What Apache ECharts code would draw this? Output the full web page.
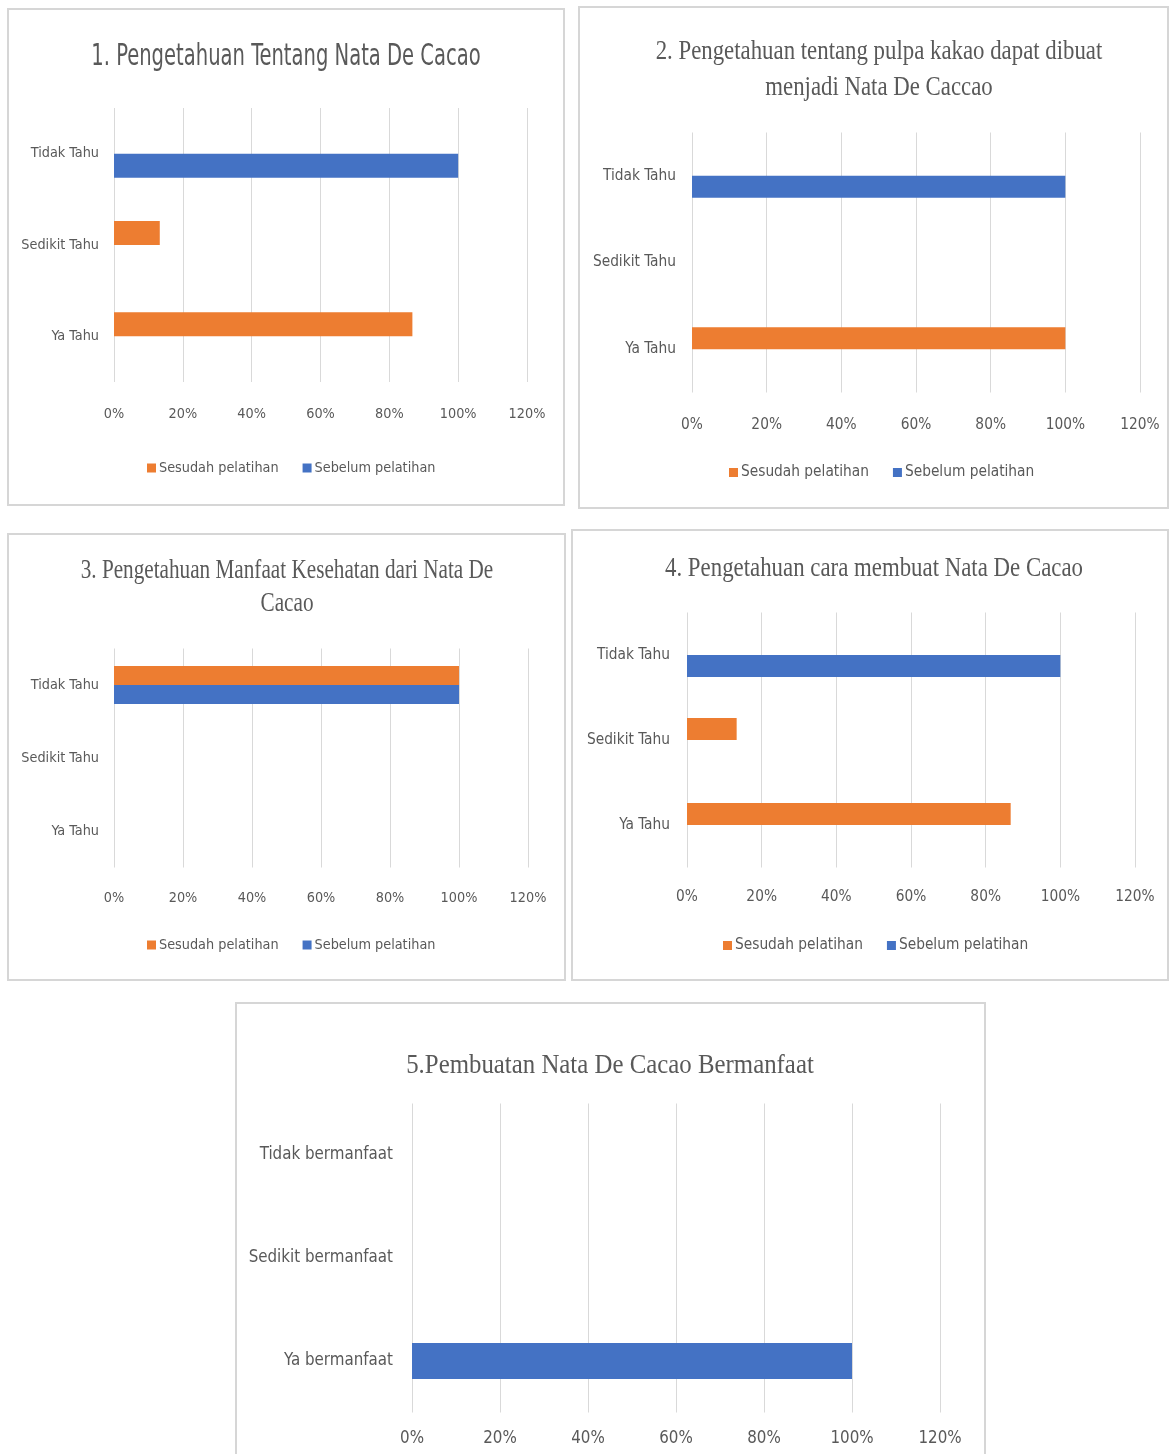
<!DOCTYPE html>
<html><head><meta charset="utf-8">
<script src="https://cdn.jsdelivr.net/npm/echarts@6/dist/echarts.min.js"></script>
<style>html,body{margin:0;padding:0;background:#fff}#c{width:1169px;height:1454px}</style>
</head><body><div id="c"></div>
<script>
// ---- data ----
const seriesNames = ['Sesudah pelatihan', 'Sebelum pelatihan'];
const knowCategories = ['Ya Tahu', 'Sedikit Tahu', 'Tidak Tahu'];
const benefitCategories = ['Ya bermanfaat', 'Sedikit bermanfaat', 'Tidak bermanfaat'];
const xTickValues = [0, 20, 40, 60, 80, 100, 120];
const titleTexts = [
  '1. Pengetahuan Tentang Nata De Cacao',
  '2. Pengetahuan tentang pulpa kakao dapat dibuat\nmenjadi Nata De Caccao',
  '3. Pengetahuan Manfaat Kesehatan dari Nata De\nCacao',
  '4. Pengetahuan cara membuat Nata De Cacao',
  '5.Pembuatan Nata De Cacao Bermanfaat'
];
const p1Sesudah = [86.7, 13.3, 0];
const p1Sebelum = [0, 0, 100];
const p2Sesudah = [100, 0, 0];
const p2Sebelum = [0, 0, 100];
const p3Sesudah = [0, 0, 100];
const p3Sebelum = [0, 0, 100];
const p4Sesudah = [86.7, 13.3, 0];
const p4Sebelum = [0, 0, 100];
const p5Values = [100, 0, 0];

// ---- layout / styles ----
const ORANGE = '#ED7D31', BLUE = '#4472C4', TXT = '#595959', GRID = '#d9d9d9';
const SANS = '"DejaVu Sans Condensed", "Liberation Sans Narrow", "Arial Narrow", sans-serif';
const SERIF = '"Liberation Serif", "Times New Roman", serif';

const panels = [
  {box:[8,9,556,496], grid:{left:114, top:108, width:413, height:274}, cats:knowCategories,
   data:[p1Sesudah,p1Sebelum], bw:24, fs:14.3, ym:15, xm:25,
   title:{x:286, y:57, size:30, font:SANS, lh:34, sx:0.725}, legend:{left:147, top:461}},
  {box:[579,7,589,501], grid:{left:692, top:132.5, width:448, height:260}, cats:knowCategories,
   data:[p2Sesudah,p2Sebelum], bw:22, fs:15.3, ym:16, xm:25,
   title:{x:879, y:70, size:27, font:SERIF, lh:36, sx:0.845}, legend:{left:729, top:465}},
  {box:[8,534,557,446], grid:{left:114, top:648.5, width:414, height:219}, cats:knowCategories,
   data:[p3Sesudah,p3Sebelum], bw:19, fs:14.3, ym:15, xm:24,
   title:{x:287, y:587, size:27, font:SERIF, lh:33, sx:0.785}, legend:{left:147, top:938}},
  {box:[572,530,596,450], grid:{left:687, top:612.5, width:448, height:255}, cats:knowCategories,
   data:[p4Sesudah,p4Sebelum], bw:22, fs:15.3, ym:17, xm:22,
   title:{x:874, y:569, size:27, font:SERIF, lh:30, sx:0.846}, legend:{left:723, top:938}},
  {box:[236,1003,749,460], grid:{left:412, top:1103.5, width:528, height:309}, cats:benefitCategories,
   data:[p5Values], bw:36, fs:16.8, ym:19, xm:18,
   title:{x:610, y:1066, size:27, font:SERIF, lh:30, sx:0.92}, legend:null}
];

const grids = [], xAxes = [], yAxes = [], series = [], legends = [], graphics = [];
panels.forEach((p, i) => {
  grids.push(Object.assign({containLabel:false}, p.grid));
  xAxes.push({
    type:'value', gridIndex:i, min:xTickValues[0], max:xTickValues[xTickValues.length-1],
    interval:xTickValues[1]-xTickValues[0],
    axisLine:{show:false}, axisTick:{show:false},
    splitLine:{show:true, lineStyle:{color:GRID, width:1}},
    axisLabel:{formatter:v => Math.round(v) + '%', color:TXT, fontFamily:SANS, fontSize:p.fs, margin:p.xm}
  });
  yAxes.push({
    type:'category', gridIndex:i, data:p.cats,
    axisLine:{show:false}, axisTick:{show:false}, splitLine:{show:false},
    axisLabel:{color:TXT, fontFamily:SANS, fontSize:p.fs, margin:p.ym}
  });
  if (p.data.length === 2) {
    series.push({name:seriesNames[0], type:'bar', xAxisIndex:i, yAxisIndex:i, data:p.data[0],
      barWidth:p.bw, barGap:'0%', itemStyle:{color:ORANGE}});
    series.push({name:seriesNames[1], type:'bar', xAxisIndex:i, yAxisIndex:i, data:p.data[1],
      barWidth:p.bw, barGap:'0%', itemStyle:{color:BLUE}});
  } else {
    series.push({name:'Persentase', type:'bar', xAxisIndex:i, yAxisIndex:i, data:p.data[0],
      barWidth:p.bw, itemStyle:{color:BLUE}});
  }
  if (p.legend) {
    legends.push({data:seriesNames, left:p.legend.left, top:p.legend.top, orient:'horizontal',
      padding:0, icon:'rect', itemWidth:9, itemHeight:9, itemGap:24, selectedMode:false,
      textStyle:{color:TXT, fontFamily:SANS, fontSize:p.fs, padding:[0,0,0,-2]}});
  }
  graphics.push({type:'rect', silent:true, shape:{x:p.box[0], y:p.box[1], width:p.box[2], height:p.box[3]},
    style:{fill:null, stroke:'#d6d6d6', lineWidth:2}});
  graphics.push({type:'text', silent:true, x:p.title.x, y:p.title.y, scaleX:p.title.sx, scaleY:1,
    style:{text:titleTexts[i], fill:TXT, font:p.title.size + 'px ' + p.title.font,
      textAlign:'center', textVerticalAlign:'middle', align:'center', verticalAlign:'middle',
      lineHeight:p.title.lh}});
});

const chart = echarts.init(document.getElementById('c'), null, {renderer:'canvas'});
chart.setOption({
  animation:false,
  backgroundColor:'#ffffff',
  grid:grids, xAxis:xAxes, yAxis:yAxes, series:series, legend:legends,
  graphic:graphics
});
</script></body></html>
